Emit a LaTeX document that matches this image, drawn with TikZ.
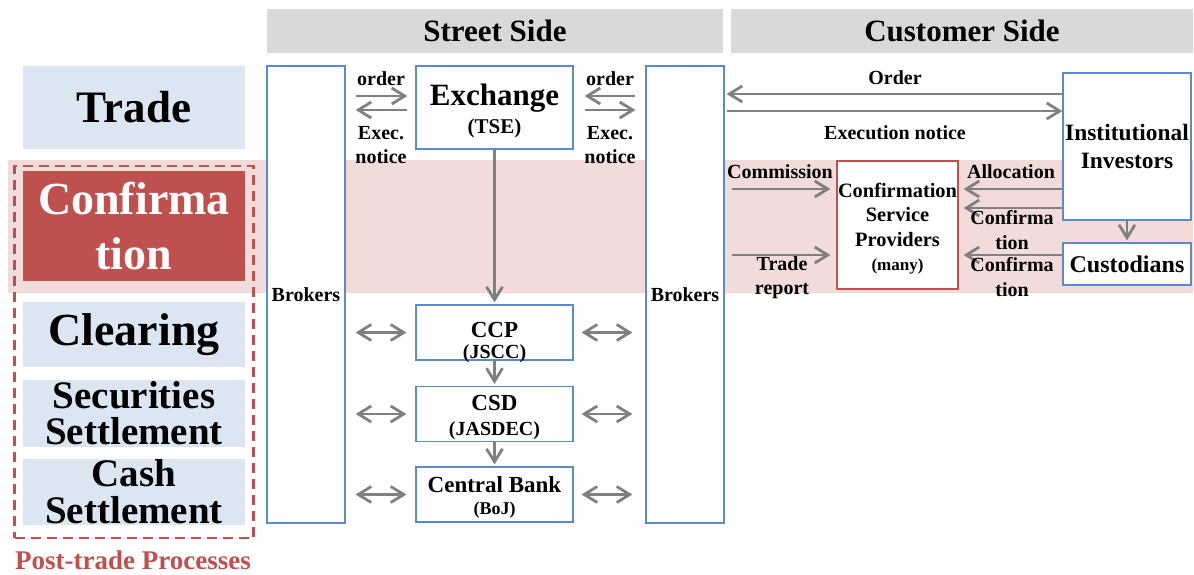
\documentclass[tikz,border=0pt]{standalone}
\usepackage{fontspec}
\setmainfont{Liberation Serif}
\usetikzlibrary{arrows.meta}
\definecolor{hdrgray}{RGB}{217,217,217}
\definecolor{lblue}{RGB}{220,230,242}
\definecolor{pinkband}{RGB}{242,220,219}
\definecolor{redc}{RGB}{192,80,77}
\definecolor{bluec}{RGB}{91,139,204}
\definecolor{arrgray}{RGB}{128,128,128}
\begin{document}
\begin{tikzpicture}[x=0.5pt,y=-0.5pt,
  hdr/.style={fill=hdrgray, minimum width=#1, minimum height=22pt, inner sep=0pt, font=\fontsize{15.5}{18}\selectfont\bfseries},
  phase/.style={fill=lblue, minimum width=111pt, inner sep=0pt, align=center},
  bluebox/.style={draw=bluec, fill=white, line width=0.6pt, inner sep=0pt, align=center},
  arr/.style={draw=arrgray, line width=1.4pt, -{Straight Barb[length=6.5pt,width=8pt]}},
  darr/.style={draw=arrgray, line width=1.4pt, {Straight Barb[length=6.5pt,width=8pt]}-{Straight Barb[length=6.5pt,width=8pt]}},
  lbl/.style={font=\fontsize{10}{12}\selectfont\bfseries, align=center, inner sep=0pt}
]
\useasboundingbox (0,0) rectangle (1194,574);
\fill[pinkband] (8,160) rectangle (1193,293);

% headers
\node[hdr=228pt] (street) at (495,30.5) {Street Side};
\node[hdr=231pt] (custhdr) at (962,30.5) {Customer Side};

% left column
\node[phase, minimum height=41.5pt, font=\fontsize{22.5}{27}\selectfont\bfseries] (trade) at (134,107.5) {Trade};
\node[phase, fill=redc, text=white, minimum height=55pt, font=\fontsize{23}{27.5}\selectfont\bfseries] (confirm) at (134,226) {Confirma\\tion};
\node[phase, minimum height=32.5pt, font=\fontsize{23}{27}\selectfont\bfseries] (clear) at (134,334.5) {Clearing};
\node[phase, minimum height=33.5pt, font=\fontsize{19.5}{18}\selectfont\bfseries] (secset) at (134,413.5) {Securities\\Settlement};
\node[phase, minimum height=33pt, font=\fontsize{19.5}{18.5}\selectfont\bfseries] (cashset) at (134,492) {Cash\\Settlement};
\node[draw=redc, line width=1.4pt, dash pattern=on 5pt off 3pt, minimum width=119.5pt, minimum height=186pt, inner sep=0pt] (frame) at (134,352) {};
\node[font=\fontsize{13.5}{16}\selectfont\bfseries, text=redc, inner sep=0pt] (post) at (133,560) {Post-trade Processes};

% brokers
\node[bluebox, minimum width=39pt, minimum height=228.5pt, font=\fontsize{10}{12}\selectfont\bfseries] (lbrok) at (306,294.5) {Brokers};
\node[bluebox, minimum width=39pt, minimum height=228.5pt, font=\fontsize{10}{12}\selectfont\bfseries] (rbrok) at (685,294.5) {Brokers};

% street-side infrastructure
\node[bluebox, minimum width=78.5pt, minimum height=41.5pt, font=\bfseries\fontsize{10.5}{14}\selectfont] (exch) at (494.5,107.5) {\rule{0pt}{14pt}{\fontsize{15.5}{16}\selectfont Exchange}\\(TSE)};
\node[bluebox, minimum width=78.5pt, minimum height=27.5pt] (ccp) at (494.5,332.5) {};
\node[font=\bfseries\fontsize{10}{10.5}\selectfont, align=center, inner sep=0pt] (ccptxt) at ([yshift=-5pt]ccp.center) {{\fontsize{11.5}{12}\selectfont CCP}\\(JSCC)};
\node[bluebox, minimum width=78.5pt, minimum height=27.5pt, font=\bfseries\fontsize{10}{12.5}\selectfont] (csd) at (494.5,414) {\rule{0pt}{11pt}{\fontsize{11.5}{12}\selectfont CSD}\\(JASDEC)};
\node[bluebox, minimum width=78.5pt, minimum height=27.5pt, font=\bfseries\fontsize{9}{11}\selectfont] (cb) at (494.5,494.5) {\rule{0pt}{11pt}{\fontsize{11.5}{12}\selectfont Central Bank}\\(BoJ)};

% customer side
\node[bluebox, minimum width=64pt, minimum height=73.5pt, font=\bfseries\fontsize{11.7}{14}\selectfont] (insti) at (1127,146.5) {Institutional\\Investors};
\node[bluebox, minimum width=64pt, minimum height=21pt, font=\bfseries\fontsize{12}{14}\selectfont] (custd) at (1127,264) {Custodians};
\node[draw=redc, fill=white, line width=0.6pt, inner sep=0pt, align=center, minimum width=60.5pt, minimum height=64pt, font=\bfseries\fontsize{10.2}{12.25}\selectfont] (csp) at (897.5,225) {\rule{0pt}{11pt}Confirmation\\Service\\Providers\\{\fontsize{8.5}{10}\selectfont (many)}};

% y-levels
\coordinate (y96) at (0,96);
\coordinate (y110) at (0,110);
\coordinate (y94) at (0,94);
\coordinate (y111) at (0,111);
\coordinate (y189) at (0,189);
\coordinate (y208) at (0,208);
\coordinate (y255) at (0,255);

% exchange arrows
\draw[arr, shorten <=5pt, shorten >=4pt] (lbrok.east |- y96) -- (exch.west |- y96);
\draw[arr, shorten <=4pt, shorten >=5pt] (exch.west |- y110) -- (lbrok.east |- y110);
\draw[arr, shorten <=5pt, shorten >=5.5pt] (rbrok.west |- y96) -- (exch.east |- y96);
\draw[arr, shorten <=5.5pt, shorten >=5pt] (exch.east |- y110) -- (rbrok.west |- y110);

% vertical chain
\draw[arr, shorten >=1pt] (exch) -- (ccp);
\draw[arr, shorten >=1pt] (ccp) -- (csd);
\draw[arr, shorten >=1pt] (csd) -- (cb);

% double arrows
\foreach \b in {ccp,csd,cb}{
  \draw[darr, shorten <=5pt, shorten >=4.5pt] (lbrok.east |- \b) -- (\b.west);
  \draw[darr, shorten <=4pt, shorten >=6.5pt] (\b.east) -- (rbrok.west |- \b);
}

% customer side arrows
\draw[arr, shorten >=1pt] (insti.west |- y94) -- (rbrok.east |- y94);
\draw[arr, shorten <=1pt] (rbrok.east |- y111) -- (insti.west |- y111);
\draw[arr, shorten <=3.5pt, shorten >=3pt] (rbrok.east |- y189) -- (csp.west |- y189);
\draw[arr, shorten <=3.5pt, shorten >=3pt] (rbrok.east |- y255) -- (csp.west |- y255);
\draw[arr, shorten >=2.5pt] (insti.west |- y189) -- (csp.east |- y189);
\draw[arr, shorten >=2.5pt] (insti.west |- y208) -- (csp.east |- y208);
\draw[arr, shorten >=2.5pt] (custd.west |- y255) -- (csp.east |- y255);
\draw[arr, shorten >=1pt] (insti) -- (custd);

% labels
\node[lbl] (lorder) at (381,79) {order};
\node[lbl] (lexec) at (381,145) {Exec.\\notice};
\node[lbl] (rorder) at (610,79) {order};
\node[lbl] (rexec) at (610,145) {Exec.\\notice};
\node[lbl] (ordlbl) at (895,78) {Order};
\node[lbl] (execlbl) at (895,133) {Execution notice};
\node[lbl] (comm) at (780,172) {Commission};
\node[lbl] (trep) at (782,278) {Trade\\report};
\node[lbl] (alloc) at (1011,172) {Allocation};
\node[lbl, font=\fontsize{10}{12.5}\selectfont\bfseries] (conf1) at (1012,230) {Confirma\\tion};
\node[lbl, font=\fontsize{10}{12.5}\selectfont\bfseries] (conf2) at (1012,277) {Confirma\\tion};
\end{tikzpicture}
\end{document}
